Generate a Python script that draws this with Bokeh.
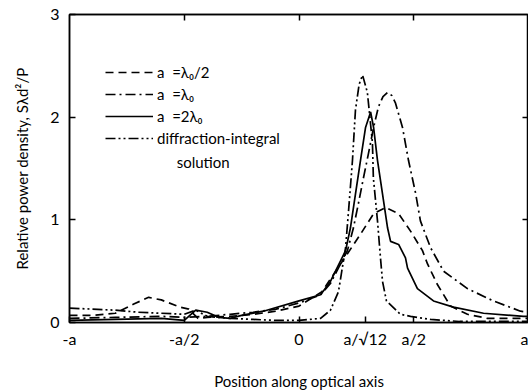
from bokeh.plotting import figure
from bokeh.models import FixedTicker, LinearAxis, Legend, LegendItem, Label, Range1d
from bokeh.embed import file_html
from bokeh.resources import INLINE

# Position along optical axis in units of the aperture a
x_ticks = [-1.0, -0.5, 0.0, 0.2887, 0.5, 1.0]
x_tick_labels = ["-a", "-a/2", "0", "a/√12", "a/2", "a"]
y_ticks = [0, 1, 2, 3]
top_ticks = [-0.5, 0.0, 0.5]
right_ticks = [1, 2]

# a = lambda0/2 (dashed)
x_half = [-1.0, -0.9, -0.8, -0.72, -0.655, -0.6, -0.52, -0.48, -0.44, -0.4, -0.3, -0.2, -0.1, 0.0,
          0.1, 0.181, 0.211, 0.268, 0.325, 0.377, 0.434, 0.486, 0.538, 0.560, 0.603, 0.660, 0.734,
          0.821, 1.0]
y_half = [0.07, 0.07, 0.09, 0.18, 0.245, 0.22, 0.15, 0.13, 0.04, 0.05, 0.06, 0.08, 0.11, 0.16,
          0.30, 0.57, 0.67, 0.86, 1.06, 1.12, 1.06, 0.89, 0.70, 0.57, 0.37, 0.16, 0.08,
          0.04, 0.04]

# a = lambda0 (dash-dot)
x_one = [-1.0, -0.8, -0.6, -0.5, -0.4, -0.3, -0.2, -0.1, 0.0, 0.094, 0.137, 0.211, 0.237, 0.259,
         0.281, 0.303, 0.325, 0.346, 0.366, 0.386, 0.405, 0.420, 0.451, 0.477, 0.508, 0.529, 0.573,
         0.630, 0.734, 0.847, 0.965, 1.0]
y_one = [0.04, 0.05, 0.06, 0.05, 0.06, 0.08, 0.10, 0.13, 0.19, 0.27, 0.38, 0.70, 0.92, 1.16,
         1.41, 1.65, 1.90, 2.10, 2.20, 2.24, 2.21, 2.14, 1.90, 1.58, 1.26, 0.99, 0.73,
         0.50, 0.33, 0.21, 0.11, 0.10]

# a = 2 lambda0 (solid)
x_two = [-1.0, -0.8, -0.6, -0.5, -0.45, -0.4, -0.35, -0.3, -0.25, -0.155, 0.0, 0.094, 0.137,
         0.203, 0.224, 0.246, 0.268, 0.290, 0.312, 0.325, 0.342, 0.364, 0.386, 0.399, 0.434,
         0.464, 0.473, 0.516, 0.586, 0.673, 0.804, 0.978, 1.0]
y_two = [0.02, 0.03, 0.04, 0.02, 0.12, 0.10, 0.05, 0.04, 0.07, 0.11, 0.21, 0.27, 0.40,
         0.70, 0.92, 1.25, 1.58, 1.90, 2.05, 1.90, 1.58, 1.25, 0.92, 0.79, 0.76,
         0.63, 0.53, 0.33, 0.21, 0.15, 0.09, 0.06, 0.06]

# diffraction-integral solution (dash-dot-dot)
x_diff = [-1.0, -0.9, -0.8, -0.7, -0.6, -0.5, -0.45, -0.4, -0.3, -0.2, -0.1, 0.0, 0.094, 0.137,
          0.172, 0.203, 0.216, 0.233, 0.246, 0.262, 0.277, 0.298, 0.320, 0.324, 0.342, 0.355,
          0.364, 0.381, 0.442, 0.486, 0.573, 0.7, 1.0]
y_diff = [0.14, 0.13, 0.12, 0.10, 0.09, 0.08, 0.12, 0.06, 0.04, 0.03, 0.02, 0.02, 0.04, 0.12,
          0.30, 0.73, 1.09, 1.58, 2.07, 2.32, 2.41, 2.24, 1.75, 1.41, 0.99, 0.63,
          0.40, 0.21, 0.08, 0.06, 0.03, 0.01, 0.01]

FONT = "Lato"

p = figure(frame_width=459, frame_height=308, x_range=Range1d(-1, 1), y_range=Range1d(0, 3),
           output_backend="svg", toolbar_location=None,
           min_border_left=69, min_border_right=0, min_border_top=14, min_border_bottom=0,
           x_axis_label="Position along optical axis",
           y_axis_label="Relative power density, Sλd²/P")
p.grid.visible = False
p.outline_line_color = "black"
p.outline_line_width = 1.5

xa = p.xaxis[0]
xa.ticker = FixedTicker(ticks=x_ticks, minor_ticks=[])
xa.major_label_overrides = {t: l for t, l in zip(x_ticks, x_tick_labels)}
ya = p.yaxis[0]
ya.ticker = FixedTicker(ticks=y_ticks, minor_ticks=[])

for ax in (xa, ya):
    ax.major_tick_in = 6
    ax.major_tick_out = 0
    ax.minor_tick_in = 0
    ax.minor_tick_out = 0
    ax.axis_line_width = 1.5
    ax.major_tick_line_width = 1.5
    ax.major_label_text_font = FONT
    ax.major_label_text_font_size = "16px"
    ax.major_label_text_color = "black"
    ax.axis_label_text_font = FONT
    ax.axis_label_text_font_size = "15px"
    ax.axis_label_text_font_style = "normal"
    ax.axis_label_text_color = "black"
xa.major_label_standoff = 6
xa.axis_label_standoff = 21
ya.major_label_standoff = 10
ya.axis_label_standoff = 16

top = LinearAxis(ticker=FixedTicker(ticks=top_ticks, minor_ticks=[]))
top.major_label_overrides = {t: "" for t in top_ticks}
right = LinearAxis(ticker=FixedTicker(ticks=right_ticks, minor_ticks=[]))
right.major_label_overrides = {t: "" for t in right_ticks}
for ax in (top, right):
    ax.major_tick_in = 6
    ax.major_tick_out = 0
    ax.minor_tick_in = 0
    ax.minor_tick_out = 0
    ax.major_label_standoff = 0
    ax.major_label_text_font_size = "1px"
    ax.axis_line_width = 1.5
    ax.major_tick_line_width = 1.5
p.add_layout(top, "above")
p.add_layout(right, "right")

LW = 1.7
r_half = p.line(x_half, y_half, line_color="black", line_width=LW, line_dash="8 5")
r_one = p.line(x_one, y_one, line_color="black", line_width=LW, line_dash="10 4 2 4")
r_two = p.line(x_two, y_two, line_color="black", line_width=LW)
r_diff = p.line(x_diff, y_diff, line_color="black", line_width=LW, line_dash="10 3 2 3 2 3")

legend = Legend(items=[
    LegendItem(label="a  =λ₀/2", renderers=[r_half]),
    LegendItem(label="a  =λ₀", renderers=[r_one]),
    LegendItem(label="a  =2λ₀", renderers=[r_two]),
    LegendItem(label="diffraction-integral", renderers=[r_diff]),
], location=(36, 174))
legend.glyph_width = 48
legend.glyph_height = 20
legend.spacing = 2
legend.padding = 0
legend.margin = 0
legend.label_standoff = 4
legend.border_line_color = None
legend.background_fill_alpha = 0
legend.label_text_font = FONT
legend.label_text_font_size = "15px"
legend.label_text_color = "black"
p.add_layout(legend, "center")

p.add_layout(Label(x=-0.533, y=1.56, text="solution", text_font=FONT, text_font_size="15px",
                   text_baseline="middle", text_color="black"))

open("out.html", "w").write(file_html(p, INLINE))
